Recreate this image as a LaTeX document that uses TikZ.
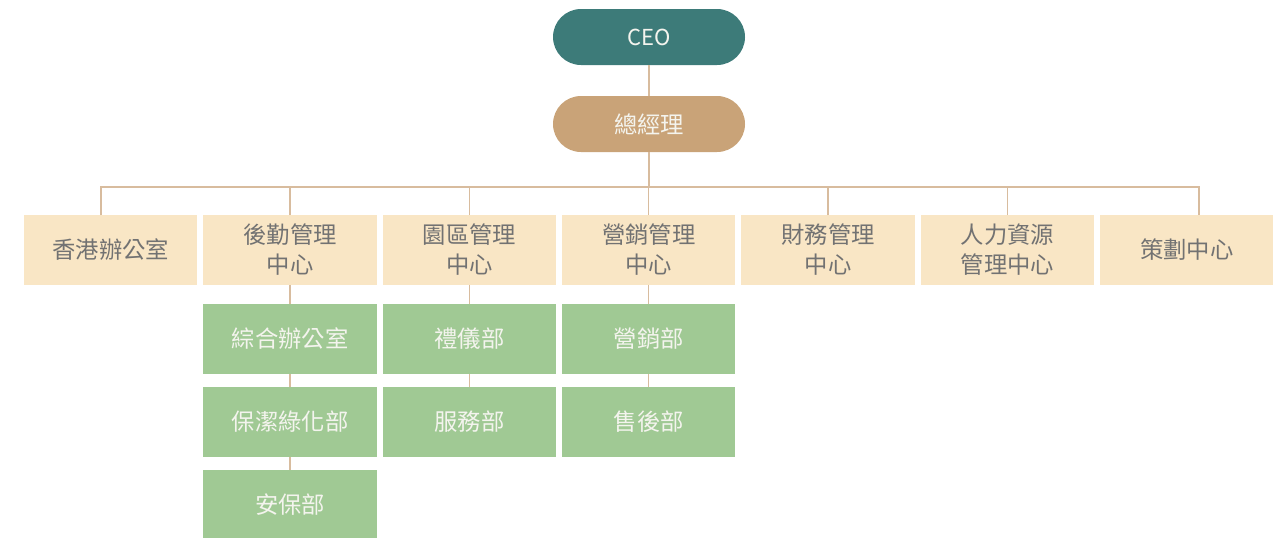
\documentclass[tikz,border=0pt]{standalone}
\usepackage{fontspec}
\setmainfont{Noto Sans CJK TC}
\usetikzlibrary{positioning}

\definecolor{ceoteal}{HTML}{3D7B79}
\definecolor{gmtan}{HTML}{C9A378}
\definecolor{centrecream}{HTML}{F9E6C5}
\definecolor{deptgreen}{HTML}{A0C994}
\definecolor{linktan}{HTML}{D8BC9E}
\definecolor{textgray}{HTML}{727272}
\definecolor{textlight}{HTML}{F4F4EE}

\tikzset{
	pill/.style = {rounded corners = 21pt, minimum width = 144pt, minimum height = 42pt, inner sep = 0pt, text = textlight, font = \fontsize{17.5}{20}\selectfont},
	centre/.style = {fill = centrecream, minimum width = 130pt, minimum height = 52pt, inner sep = 0pt, align = center, text = textgray, font = \fontsize{17.5}{22.5}\selectfont},
	dept/.style = {fill = deptgreen, minimum width = 130pt, minimum height = 52pt, inner sep = 0pt, text = textlight, font = \fontsize{17.5}{20}\selectfont},
	link/.style = {draw = linktan, line width = 1.1pt}
}

\begin{document}
\begin{tikzpicture}[x = 0.75pt, y = -0.75pt]

	\useasboundingbox (0, 0) rectangle (1287, 537);

	% Top

	\node [pill, fill = ceoteal, font = \fontsize{16.5}{20}\selectfont] (ceo) at (649, 37) {CEO};
	\node [pill, fill = gmtan] (gm) at (649, 124) {總經理};

	% Centres

	\foreach \i/\name/\label in {0/hk/{香港辦公室}, 1/logistics/{後勤管理\\中心}, 2/park/{園區管理\\中心}, 3/marketing/{營銷管理\\中心}, 4/finance/{財務管理\\中心}, 5/hr/{人力資源\\管理中心}, 6/planning/{策劃中心}}
		\node [centre] (\name) at (110.7 + 179.33 * \i, 250) {\label};

	% Departments

	\node [dept] (office) at (logistics |- 0, 339) {綜合辦公室};
	\node [dept] (cleaning) at (logistics |- 0, 422) {保潔綠化部};
	\node [dept] (security) at (logistics |- 0, 505) {安保部};
	\node [dept] (etiquette) at (park |- 0, 339) {禮儀部};
	\node [dept] (service) at (park |- 0, 422) {服務部};
	\node [dept] (sales) at (marketing |- 0, 339) {營銷部};
	\node [dept] (aftersales) at (marketing |- 0, 422) {售後部};

	% Links

	\coordinate (busleft) at (101, 187);
	\coordinate (busright) at (1199, 187);

	\draw [link] (ceo) -- (gm);
	\draw [link] (gm) -- (gm |- busleft);
	\draw [link] (hk.north -| busleft) -- (busleft) -- (busright) -- (planning.north -| busright);

	\foreach \name in {logistics, park, marketing, finance, hr}
		\draw [link] (\name) -- (\name |- busleft);

	\draw [link] (logistics) -- (office);
	\draw [link] (office) -- (cleaning);
	\draw [link] (cleaning) -- (security);
	\draw [link] (park) -- (etiquette);
	\draw [link] (etiquette) -- (service);
	\draw [link] (marketing) -- (sales);
	\draw [link] (sales) -- (aftersales);

\end{tikzpicture}
\end{document}
